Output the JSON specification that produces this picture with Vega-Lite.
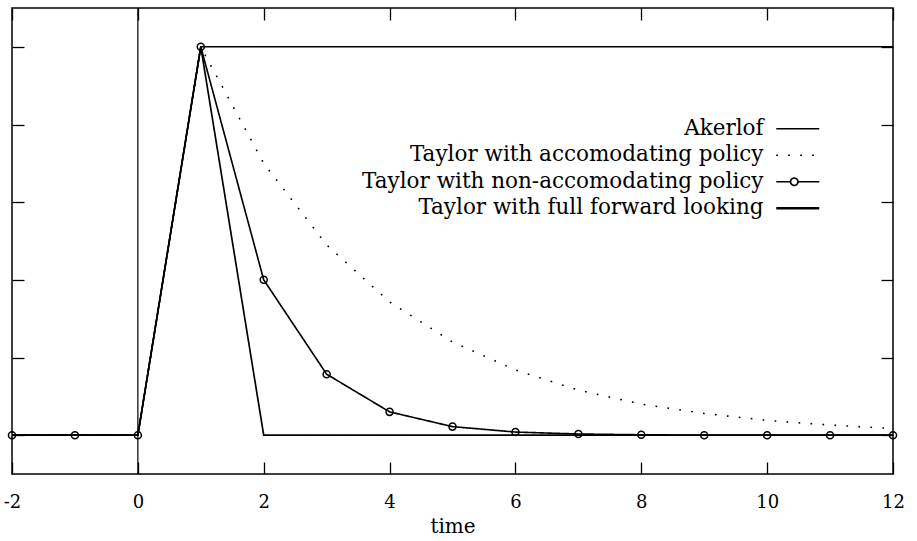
{
  "$schema": "https://vega.github.io/schema/vega-lite/v6.json",
  "autosize": "none",
  "width": 881,
  "height": 466,
  "padding": {"top": 8, "left": 12, "right": 24, "bottom": 67},
  "background": "white",
  "config": {
    "view": {"stroke": "black", "strokeWidth": 1.5},
    "axis": {"grid": false, "domain": false, "tickColor": "black", "tickWidth": 1.3, "labelColor": "black", "titleColor": "black"}
  },
  "datasets": {
    "series": [
      {"series": "Akerlof", "t": -2, "v": 0}, {"series": "Akerlof", "t": -1, "v": 0}, {"series": "Akerlof", "t": 0, "v": 0},
      {"series": "Akerlof", "t": 1, "v": 1}, {"series": "Akerlof", "t": 2, "v": 1}, {"series": "Akerlof", "t": 3, "v": 1},
      {"series": "Akerlof", "t": 4, "v": 1}, {"series": "Akerlof", "t": 5, "v": 1}, {"series": "Akerlof", "t": 6, "v": 1},
      {"series": "Akerlof", "t": 7, "v": 1}, {"series": "Akerlof", "t": 8, "v": 1}, {"series": "Akerlof", "t": 9, "v": 1},
      {"series": "Akerlof", "t": 10, "v": 1}, {"series": "Akerlof", "t": 11, "v": 1}, {"series": "Akerlof", "t": 12, "v": 1},
      {"series": "Taylor with accomodating policy", "t": -2, "v": 0}, {"series": "Taylor with accomodating policy", "t": -1, "v": 0},
      {"series": "Taylor with accomodating policy", "t": 0, "v": 0}, {"series": "Taylor with accomodating policy", "t": 1, "v": 1},
      {"series": "Taylor with accomodating policy", "t": 2, "v": 0.7}, {"series": "Taylor with accomodating policy", "t": 3, "v": 0.49},
      {"series": "Taylor with accomodating policy", "t": 4, "v": 0.343}, {"series": "Taylor with accomodating policy", "t": 5, "v": 0.24},
      {"series": "Taylor with accomodating policy", "t": 6, "v": 0.168}, {"series": "Taylor with accomodating policy", "t": 7, "v": 0.116},
      {"series": "Taylor with accomodating policy", "t": 8, "v": 0.08}, {"series": "Taylor with accomodating policy", "t": 9, "v": 0.056},
      {"series": "Taylor with accomodating policy", "t": 10, "v": 0.038}, {"series": "Taylor with accomodating policy", "t": 11, "v": 0.026},
      {"series": "Taylor with accomodating policy", "t": 12, "v": 0.017},
      {"series": "Taylor with non-accomodating policy", "t": -2, "v": 0}, {"series": "Taylor with non-accomodating policy", "t": -1, "v": 0},
      {"series": "Taylor with non-accomodating policy", "t": 0, "v": 0}, {"series": "Taylor with non-accomodating policy", "t": 1, "v": 1},
      {"series": "Taylor with non-accomodating policy", "t": 2, "v": 0.4}, {"series": "Taylor with non-accomodating policy", "t": 3, "v": 0.157},
      {"series": "Taylor with non-accomodating policy", "t": 4, "v": 0.06}, {"series": "Taylor with non-accomodating policy", "t": 5, "v": 0.022},
      {"series": "Taylor with non-accomodating policy", "t": 6, "v": 0.008}, {"series": "Taylor with non-accomodating policy", "t": 7, "v": 0.003},
      {"series": "Taylor with non-accomodating policy", "t": 8, "v": 0.001}, {"series": "Taylor with non-accomodating policy", "t": 9, "v": 0},
      {"series": "Taylor with non-accomodating policy", "t": 10, "v": 0}, {"series": "Taylor with non-accomodating policy", "t": 11, "v": 0},
      {"series": "Taylor with non-accomodating policy", "t": 12, "v": 0},
      {"series": "Taylor with full forward looking", "t": -2, "v": 0}, {"series": "Taylor with full forward looking", "t": -1, "v": 0},
      {"series": "Taylor with full forward looking", "t": 0, "v": 0}, {"series": "Taylor with full forward looking", "t": 1, "v": 1},
      {"series": "Taylor with full forward looking", "t": 2, "v": 0}, {"series": "Taylor with full forward looking", "t": 3, "v": 0},
      {"series": "Taylor with full forward looking", "t": 4, "v": 0}, {"series": "Taylor with full forward looking", "t": 5, "v": 0},
      {"series": "Taylor with full forward looking", "t": 6, "v": 0}, {"series": "Taylor with full forward looking", "t": 7, "v": 0},
      {"series": "Taylor with full forward looking", "t": 8, "v": 0}, {"series": "Taylor with full forward looking", "t": 9, "v": 0},
      {"series": "Taylor with full forward looking", "t": 10, "v": 0}, {"series": "Taylor with full forward looking", "t": 11, "v": 0},
      {"series": "Taylor with full forward looking", "t": 12, "v": 0}
    ],
    "zero": [{"x0": 0}]
  },
  "resolve": {"axis": {"x": "independent", "y": "independent"}},
  "layer": [
    {
      "data": {"name": "series"},
      "mark": {"type": "line", "color": "black", "strokeCap": "butt", "strokeJoin": "miter"},
      "encoding": {
        "x": {"field": "t", "type": "quantitative",
          "scale": {"domain": [-2, 12], "nice": false, "zero": false},
          "axis": {"orient": "bottom", "values": [-2, 0, 2, 4, 6, 8, 10, 12], "tickSize": -12, "labelPadding": 31,
            "labelExpr": "'' + datum.value", "labelFont": "DejaVu Serif", "labelFontSize": 18, "labelFlush": false,
            "title": "time", "titleFont": "DejaVu Serif", "titleFontSize": 20, "titleFontWeight": "normal", "titlePadding": 5}},
        "y": {"field": "v", "type": "quantitative",
          "scale": {"domain": [-0.1, 1.1], "nice": false, "zero": false},
          "axis": {"orient": "left", "values": [0, 0.2, 0.4, 0.6, 0.8, 1], "tickSize": -12, "labels": false, "title": null}},
        "detail": {"field": "series"},
        "strokeWidth": {"field": "series", "type": "nominal",
          "scale": {"domain": ["Akerlof", "Taylor with accomodating policy", "Taylor with non-accomodating policy", "Taylor with full forward looking"], "range": [1.5, 1.7, 1.5, 3.2]},
          "legend": null},
        "strokeDash": {"field": "series", "type": "nominal",
          "scale": {"domain": ["Akerlof", "Taylor with accomodating policy", "Taylor with non-accomodating policy", "Taylor with full forward looking"], "range": [[1, 0], [1.7, 10.3], [1, 0], [1, 0]]},
          "legend": {
            "orient": "none", "legendX": 775, "legendY": 110, "title": null,
            "symbolSize": 100, "symbolStrokeColor": "black", "symbolFillColor": "transparent", "symbolStrokeWidth": 1.5,
            "labelFont": "DejaVu Serif", "labelFontSize": 21.5, "labelColor": "black", "labelLimit": 0,
            "labelAlign": "right", "labelOffset": -45, "rowPadding": 3.5,
            "encode": {"symbols": {"update": {
              "shape": {"signal": "datum.value === 'Taylor with non-accomodating policy' ? 'M-4.3,0H-1.44M0.04,0H4.3M0.04,0A0.74,0.74,0,1,1,-1.44,0A0.74,0.74,0,1,1,0.04,0' : (datum.value === 'Taylor with full forward looking' ? 'M-4.3,-0.07H4.3M-4.3,0.07H4.3' : 'M-4.3,0H4.3')"},
              "stroke": {"value": "black"},
              "fill": {"value": "transparent"}
            }}}
          }}
      }
    },
    {
      "data": {"name": "series"},
      "transform": [{"filter": "datum.series === 'Taylor with non-accomodating policy'"}],
      "mark": {"type": "point", "shape": "circle", "filled": false, "color": "black", "size": 50, "strokeWidth": 1.5, "opacity": 1},
      "encoding": {
        "x": {"field": "t", "type": "quantitative",
          "axis": {"orient": "top", "values": [-2, 0, 2, 4, 6, 8, 10, 12], "tickSize": -12, "labels": false, "title": null}},
        "y": {"field": "v", "type": "quantitative",
          "axis": {"orient": "right", "values": [0, 0.2, 0.4, 0.6, 0.8, 1], "tickSize": -12, "labels": false, "title": null}}
      }
    },
    {
      "data": {"name": "zero"},
      "mark": {"type": "rule", "color": "black", "strokeWidth": 1.2},
      "encoding": {"x": {"field": "x0", "type": "quantitative", "axis": null}}
    }
  ]
}
